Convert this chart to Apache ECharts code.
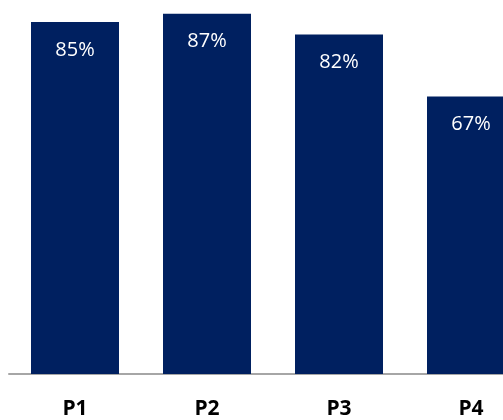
<!DOCTYPE html>
<html>
<head>
<meta charset="utf-8">
<script src="https://cdn.jsdelivr.net/npm/echarts@6/dist/echarts.min.js"></script>
<style>html,body{margin:0;padding:0;background:#fff;}#c{width:503px;height:420px;}</style>
</head>
<body>
<div id="c"></div>
<script>
var categories = ['P1', 'P2', 'P3', 'P4'];
var values = [85, 87, 82, 67];

var chart = echarts.init(document.getElementById('c'), null, {renderer: 'canvas'});
chart.setOption({
  animation: false,
  grid: {left: 9, top: 0, width: 528, height: 374, outerBoundsMode: 'none', containLabel: false},
  xAxis: {
    type: 'category',
    data: categories,
    axisLine: {lineStyle: {color: '#a6a6a6', width: 2}},
    axisTick: {show: false},
    axisLabel: {
      color: '#000', fontWeight: 'bold', fontSize: 21,
      fontFamily: 'Open Sans', margin: 25
    }
  },
  yAxis: {
    type: 'value', min: 0, max: 90.3,
    show: false, splitLine: {show: false}
  },
  series: [{
    type: 'bar',
    data: values,
    barWidth: 88,
    itemStyle: {color: '#002060'},
    label: {
      show: true, position: 'insideTop', distance: 18,
      color: '#fff', fontSize: 20, fontFamily: 'Open Sans',
      formatter: '{c}%'
    }
  }]
});
</script>
</body>
</html>
